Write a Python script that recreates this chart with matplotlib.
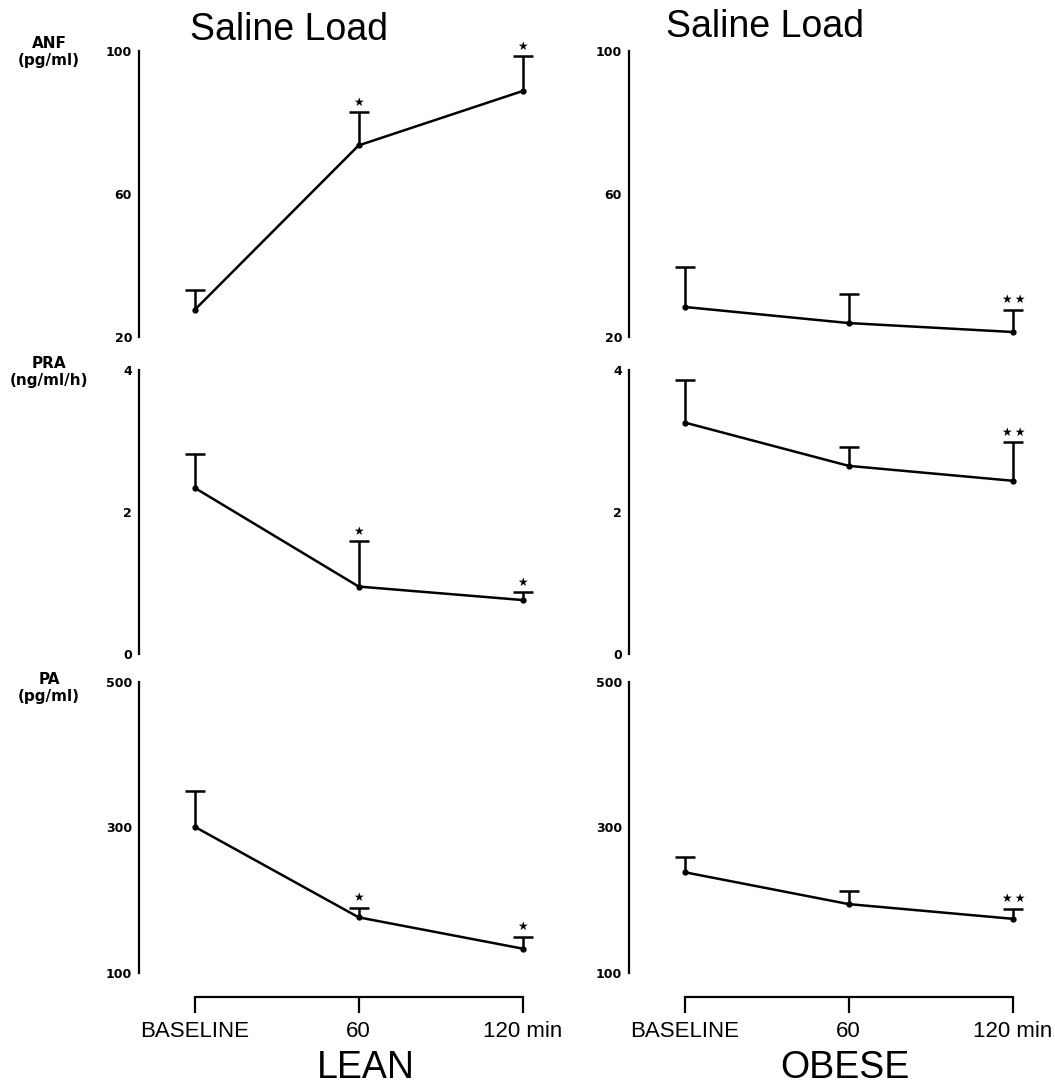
import matplotlib
matplotlib.use("Agg")
import matplotlib.pyplot as plt
import numpy as np

# ---------------- data ----------------
time_labels = ['BASELINE', '60', '120 min']
x_pos = [0, 1, 2]

lean_anf = [27.6, 73.6, 88.8]
lean_anf_err = [5.6, 9.3, 9.8]
obese_anf = [28.4, 23.9, 21.4]
obese_anf_err = [11.2, 8.2, 6.2]

lean_pra = [2.34, 0.95, 0.76]
lean_pra_err = [0.48, 0.64, 0.11]
obese_pra = [3.26, 2.65, 2.44]
obese_pra_err = [0.60, 0.27, 0.54]

lean_pa = [301, 176.5, 133.5]
lean_pa_err = [49, 13.5, 16.5]
obese_pa = [238.5, 194.7, 174.5]
obese_pa_err = [21.5, 18.3, 14.1]

lean_sig = ['', '*', '*']
obese_sig = ['', '', '**']

row_labels = ['ANF\n(pg/ml)', 'PRA\n(ng/ml/h)', 'PA\n(pg/ml)']
row_ylims = [(20, 100), (0, 4), (100, 500)]
row_yticks = [[20, 60, 100], [0, 2, 4], [100, 300, 500]]
row_yticklabels = [['20', '60', '100'], ['0', '2', '4'], ['100', '300', '500']]

titles = ['Saline Load', 'Saline Load']
groups = ['LEAN', 'OBESE']

# ---------------- layout ----------------
W, H = 1055, 1085
fig = plt.figure(figsize=(W / 100, H / 100), dpi=100)

row_px = [(51, 337), (370, 654), (682, 973)]  # top, bottom pixels
col_left_px = [139, 629]
ax_w_px = 400
xlim = (-0.34, 2.1)

lean_rows = [(lean_anf, lean_anf_err), (lean_pra, lean_pra_err), (lean_pa, lean_pa_err)]
obese_rows = [(obese_anf, obese_anf_err), (obese_pra, obese_pra_err), (obese_pa, obese_pa_err)]

star = '\u2605'


def draw_panel(ax, vals, errs, sig, r, is_bottom):
    ax.set_xlim(*xlim)
    ax.set_ylim(*row_ylims[r])
    for s in ['top', 'right']:
        ax.spines[s].set_visible(False)
    ax.spines['left'].set_linewidth(1.6)
    ax.set_yticks(row_yticks[r])
    ax.set_yticklabels(row_yticklabels[r], fontsize=9, fontweight='bold',
                       family='DejaVu Sans')
    ax.tick_params(axis='y', length=0, pad=5)
    vals = np.asarray(vals, float)
    errs = np.asarray(errs, float)
    tops = vals + errs
    ax.plot(x_pos, vals, color='black', lw=1.8, marker='o', ms=3.5, clip_on=False)
    ax.vlines(x_pos, vals, tops, color='black', lw=1.8, clip_on=False)
    ax.plot(x_pos, tops, linestyle='none', marker='_', ms=14, mew=1.8,
            color='black', clip_on=False)
    for xi, t, s in zip(x_pos, tops, sig):
        if s:
            txt = '\u2009'.join([star] * len(s))
            ax.annotate(txt, (xi, t), xytext=(1 if len(s) > 1 else 0, 2.5),
                        textcoords='offset points',
                        ha='center', va='bottom', fontsize=8.5, family='DejaVu Sans',
                        annotation_clip=False)
    if is_bottom:
        ax.spines['bottom'].set_position(('outward', 17))
        ax.spines['bottom'].set_bounds(0, 2)
        ax.spines['bottom'].set_linewidth(1.6)
        ax.set_xticks(x_pos)
        ax.set_xticklabels(time_labels, fontsize=16, family='Liberation Sans')
        ax.tick_params(axis='x', direction='out', length=11.5, width=1.6, pad=6)
    else:
        ax.spines['bottom'].set_visible(False)
        ax.set_xticks([])


for c, rows in enumerate([lean_rows, obese_rows]):
    sig = lean_sig if c == 0 else obese_sig
    for r, (vals, errs) in enumerate(rows):
        top, bot = row_px[r]
        ax = fig.add_axes([col_left_px[c] / W, 1 - bot / H, ax_w_px / W, (bot - top) / H])
        ax.patch.set_alpha(0)
        draw_panel(ax, vals, errs, sig, r, r == 2)

# row labels
row_label_y = [52, 372, 688]
for lab, yy in zip(row_labels, row_label_y):
    fig.text(49 / W, 1 - yy / H, lab, ha='center', va='center', fontsize=11,
             fontweight='bold', family='DejaVu Sans', multialignment='center',
             linespacing=1.1)

# titles
fig.text(289 / W, 1 - 30 / H, titles[0], ha='center', va='center', fontsize=27,
         family='Liberation Sans')
fig.text(765 / W, 1 - 27 / H, titles[1], ha='center', va='center', fontsize=27,
         family='Liberation Sans')

# group labels
fig.text(366 / W, 1 - 1068 / H, groups[0], ha='center', va='center', fontsize=27,
         family='Liberation Sans')
fig.text(845 / W, 1 - 1068 / H, groups[1], ha='center', va='center', fontsize=27,
         family='Liberation Sans')

fig.savefig('out.png', dpi=100)
